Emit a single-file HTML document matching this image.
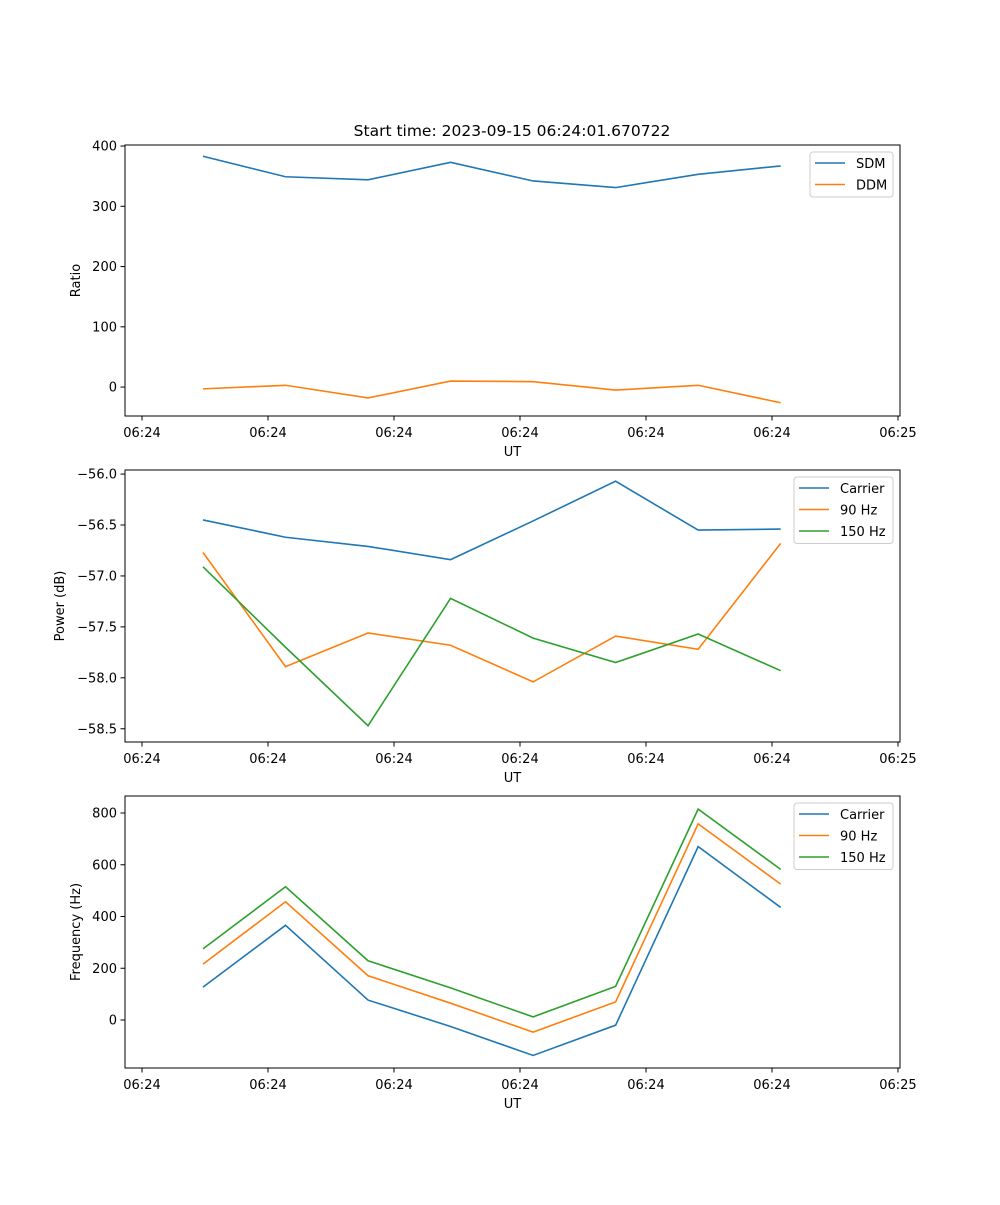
<!DOCTYPE html>
<html><head><meta charset="utf-8"><style>
body{margin:0;background:#fff}
svg text{font-family:"DejaVu Sans","Liberation Sans",sans-serif;font-size:13px;fill:#000}
</style></head><body>
<svg id="fig" width="1000" height="1200" viewBox="0 0 1000 1200" xmlns="http://www.w3.org/2000/svg">
<rect width="1000" height="1200" fill="#fff"/>
<text x="512" y="136" text-anchor="middle" style="font-size:15.5px">Start time: 2023-09-15 06:24:01.670722</text>
</svg>
<script>
// times (s, relative to first sample)
const times = [0, 0.655, 1.31, 1.965, 2.62, 3.275, 3.93, 4.585];
const xTickTimes = [-0.484, 0.516, 1.516, 2.516, 3.516, 4.516, 5.516];
const xTickLabels = ["06:24","06:24","06:24","06:24","06:24","06:24","06:25"];
const sdm = [383, 349, 344, 373, 342, 331, 353, 367];
const ddm = [-3, 3, -18, 10, 9, -5, 3, -26];
const powCarrier = [-56.45, -56.62, -56.71, -56.84, -56.46, -56.07, -56.55, -56.54];
const pow90 = [-56.77, -57.89, -57.56, -57.68, -58.04, -57.59, -57.72, -56.68];
const pow150 = [-56.91, -57.70, -58.47, -57.22, -57.61, -57.85, -57.57, -57.93];
const freqCarrier = [127, 366, 77, -25, -137, -20, 670, 435];
const freq90 = [216, 457, 171, 65, -47, 70, 758, 525];
const freq150 = [275, 515, 229, 124, 12, 130, 815, 582];
const ticks1 = [0, 100, 200, 300, 400];
const ticks2 = [-58.5, -58.0, -57.5, -57.0, -56.5, -56.0];
const ticks3 = [0, 200, 400, 600, 800];

const NS = "http://www.w3.org/2000/svg";
const svg = document.getElementById('fig');
const L = 125, R = 900;
const xmin = -0.619, xmax = 5.532;
const xs = t => L + (t - xmin) / (xmax - xmin) * (R - L);
function mk(tag, attrs, parent) {
  const e = document.createElementNS(NS, tag);
  for (const k in attrs) e.setAttribute(k, attrs[k]);
  (parent || svg).appendChild(e);
  return e;
}
const C = ['#1f77b4', '#ff7f0e', '#2ca02c'];
function panel(name, top, bot, ymin, ymax, yticks, fmt, ylabel, series, names, legBox) {
  const g = mk('g', {});
  
  
  const ys = v => bot - (v - ymin) / (ymax - ymin) * (bot - top);
  series.forEach((s, i) => {
    const p = mk('polyline', {points: s.map((v, j) => xs(times[j]) + ',' + ys(v)).join(' '), fill: 'none', stroke: C[i], 'stroke-width': 1.6}, g);
    
    
  });
  const fr = mk('rect', {x: L, y: top, width: R - L, height: bot - top, fill: 'none', stroke: '#000', 'stroke-width': 1}, g);
  
  
  xTickTimes.forEach((t, i) => {
    const x = xs(t);
    mk('line', {x1: x, x2: x, y1: bot, y2: bot + 4.5, stroke: '#000', 'stroke-width': 1}, g);
    const tx = mk('text', {x: x, y: bot + 21, 'text-anchor': 'middle'}, g);
    tx.textContent = xTickLabels[i];
    
    
  });
  yticks.forEach(v => {
    const y = ys(v);
    mk('line', {x1: L - 4.5, x2: L, y1: y, y2: y, stroke: '#000', 'stroke-width': 1}, g);
    const tx = mk('text', {x: L - 8, y: y + 4.5, 'text-anchor': 'end'}, g);
    tx.textContent = fmt(v);
    
    
  });
  const xl = mk('text', {x: (L + R) / 2, y: bot + 40, 'text-anchor': 'middle'}, g);
  xl.textContent = 'UT';
  
  
  const yl = mk('text', {x: 0, y: 0, 'text-anchor': 'middle', transform: `translate(${legBox.yx},${(top + bot) / 2}) rotate(-90)`}, g);
  yl.textContent = ylabel;
  
  
  const lg = mk('g', {}, g);
  
  
  mk('rect', {x: legBox.x, y: top + 7, width: 893 - legBox.x, height: 2 + names.length * 21.5, rx: 3, fill: '#fff', 'fill-opacity': 0.8, stroke: '#ccc'}, lg);
  names.forEach((n, i) => {
    const y = top + 18 + i * 21.5;
    mk('line', {x1: legBox.x + 5, x2: legBox.x + 35, y1: y, y2: y, stroke: C[i], 'stroke-width': 1.6}, lg);
    const tx = mk('text', {x: legBox.x + 46, y: y + 5}, lg);
    tx.textContent = n;
    
    
  });
}
panel('ratio-panel', 145, 416, -48, 401.7, ticks1, v => v.toString().replace('-', '−'), 'Ratio', [sdm, ddm], ['SDM', 'DDM'], {x: 810, yx: 80});
panel('power-panel', 470, 742, -58.63, -55.96, ticks2, v => v.toFixed(1).replace('-', '−'), 'Power (dB)', [powCarrier, pow90, pow150], ['Carrier', '90 Hz', '150 Hz'], {x: 794, yx: 64});
panel('frequency-panel', 796, 1068, -185.5, 865.7, ticks3, v => v.toString(), 'Frequency (Hz)', [freqCarrier, freq90, freq150], ['Carrier', '90 Hz', '150 Hz'], {x: 794, yx: 80});
</script>
</body></html>
